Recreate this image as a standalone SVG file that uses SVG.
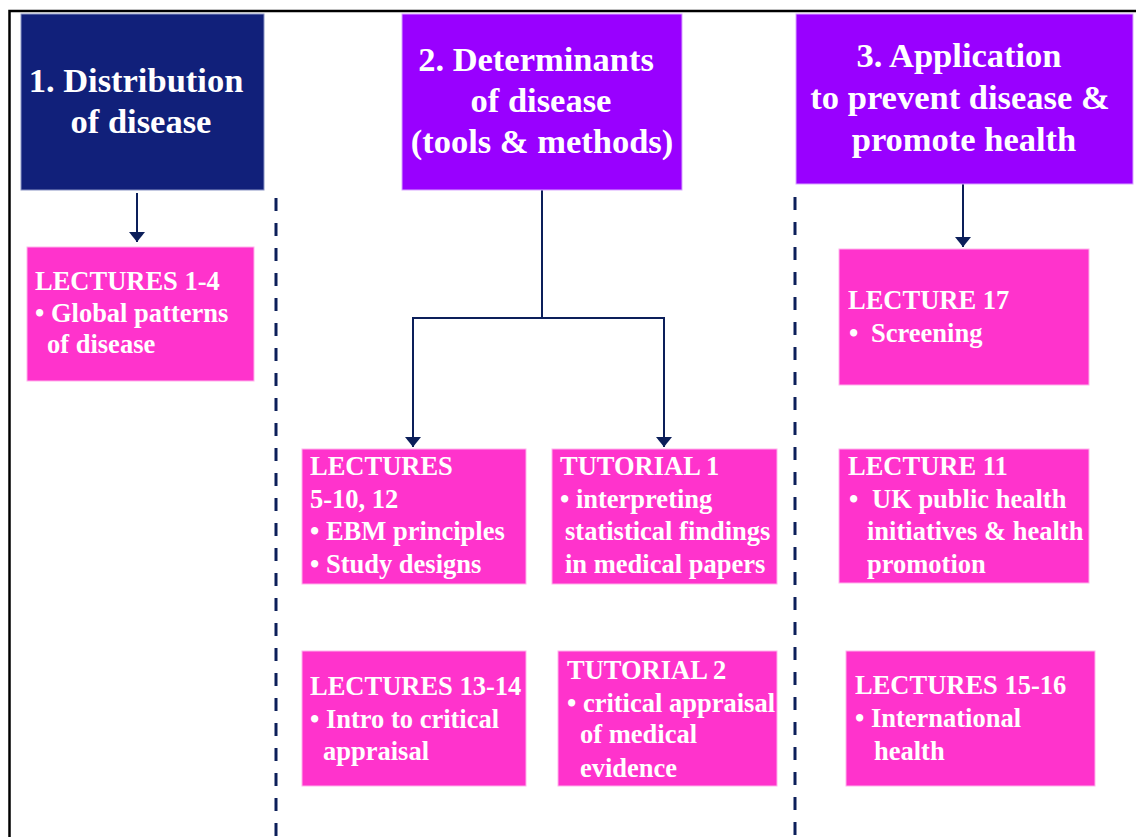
<svg xmlns="http://www.w3.org/2000/svg" width="1136" height="837" viewBox="0 0 1136 837">
<style>
.hdr{font-family:"Liberation Serif","Times New Roman",serif;font-weight:bold;font-size:34.5px;fill:#ffffff;text-anchor:middle}
.txt{font-family:"Liberation Serif","Times New Roman",serif;font-weight:bold;font-size:26.5px;fill:#ffffff}
.pink{fill:#ff33cc;stroke:#ffb3ec;stroke-width:1}
.conn{fill:none;stroke:#0c1f5a;stroke-width:2}
.dash{fill:none;stroke:#0c1f5a;stroke-width:3;stroke-dasharray:13 12}
</style>
<defs>
<marker id="arr" viewBox="0 0 10 16" refX="10" refY="8" markerWidth="10" markerHeight="16" markerUnits="userSpaceOnUse" orient="auto">
<path d="M0,0 L10,8 L0,16 Z" fill="#0c1f5a"/>
</marker>
</defs>
<rect width="1136" height="837" fill="#ffffff"/>
<path d="M9.5,837 V11 H1136" fill="none" stroke="#000000" stroke-width="2.5"/>

<g id="connectors">
<line class="dash" x1="276" y1="198" x2="276" y2="837"/>
<line class="dash" x1="795" y1="197" x2="795" y2="837"/>
<line class="conn" x1="137" y1="193" x2="137" y2="242" marker-end="url(#arr)"/>
<path class="conn" d="M542,190 V318 H413 V447" marker-end="url(#arr)"/>
<path class="conn" d="M542,318 H664 V447" marker-end="url(#arr)"/>
<line class="conn" x1="963" y1="184" x2="963" y2="247" marker-end="url(#arr)"/>
</g>

<g id="box1">
<rect x="21" y="14" width="243" height="176" fill="#11207a" stroke="#8a93c4" stroke-width="1"/>
<text class="hdr" x="136" y="92">1. Distribution</text>
<text class="hdr" x="141" y="133">of disease</text>
</g>

<g id="box2">
<rect x="402" y="14" width="280" height="176" fill="#9900ff" stroke="#d9a6ff" stroke-width="1"/>
<text class="hdr" x="536" y="71">2. Determinants</text>
<text class="hdr" x="541" y="112">of disease</text>
<text class="hdr" x="542" y="153">(tools &amp; methods)</text>
</g>

<g id="box3">
<rect x="796" y="14" width="337" height="170" fill="#9900ff" stroke="#d9a6ff" stroke-width="1"/>
<text class="hdr" x="959" y="67">3. Application</text>
<text class="hdr" x="960" y="109">to prevent disease &amp;</text>
<text class="hdr" x="964" y="151">promote health</text>
</g>

<g id="lectures1-4">
<rect class="pink" x="27" y="247" width="227" height="134"/>
<text class="txt" x="35" y="290">LECTURES 1-4</text>
<text class="txt" x="35" y="322">• Global patterns</text>
<text class="txt" x="47" y="353">of disease</text>
</g>

<g id="lectures5-12">
<rect class="pink" x="302" y="449" width="224" height="135"/>
<text class="txt" x="310" y="475">LECTURES</text>
<text class="txt" x="310" y="508">5-10, 12</text>
<text class="txt" x="310" y="540">• EBM principles</text>
<text class="txt" x="310" y="573">• Study designs</text>
</g>

<g id="tutorial1">
<rect class="pink" x="552" y="449" width="225" height="135"/>
<text class="txt" x="560" y="475">TUTORIAL 1</text>
<text class="txt" x="560" y="508">• interpreting</text>
<text class="txt" x="565" y="540">statistical findings</text>
<text class="txt" x="565" y="573">in medical papers</text>
</g>

<g id="lectures13-14">
<rect class="pink" x="302" y="651" width="224" height="135"/>
<text class="txt" x="310" y="695">LECTURES 13-14</text>
<text class="txt" x="310" y="728">• Intro to critical</text>
<text class="txt" x="323" y="760">appraisal</text>
</g>

<g id="tutorial2">
<rect class="pink" x="558" y="651" width="219" height="135"/>
<text class="txt" x="567" y="679">TUTORIAL 2</text>
<text class="txt" x="567" y="712">• critical appraisal</text>
<text class="txt" x="580" y="743">of medical</text>
<text class="txt" x="580" y="777">evidence</text>
</g>

<g id="lecture17">
<rect class="pink" x="839" y="249" width="250" height="136"/>
<text class="txt" x="848" y="309">LECTURE 17</text>
<text class="txt" x="849" y="342">•</text>
<text class="txt" x="871" y="342">Screening</text>
</g>

<g id="lecture11">
<rect class="pink" x="839" y="449" width="250" height="134"/>
<text class="txt" x="848" y="475">LECTURE 11</text>
<text class="txt" x="849" y="508">•</text>
<text class="txt" x="872" y="508">UK public health</text>
<text class="txt" x="867" y="540">initiatives &amp; health</text>
<text class="txt" x="867" y="573">promotion</text>
</g>

<g id="lectures15-16">
<rect class="pink" x="846" y="651" width="249" height="135"/>
<text class="txt" x="855" y="694">LECTURES 15-16</text>
<text class="txt" x="855" y="727">• International</text>
<text class="txt" x="874" y="760">health</text>
</g>
</svg>
